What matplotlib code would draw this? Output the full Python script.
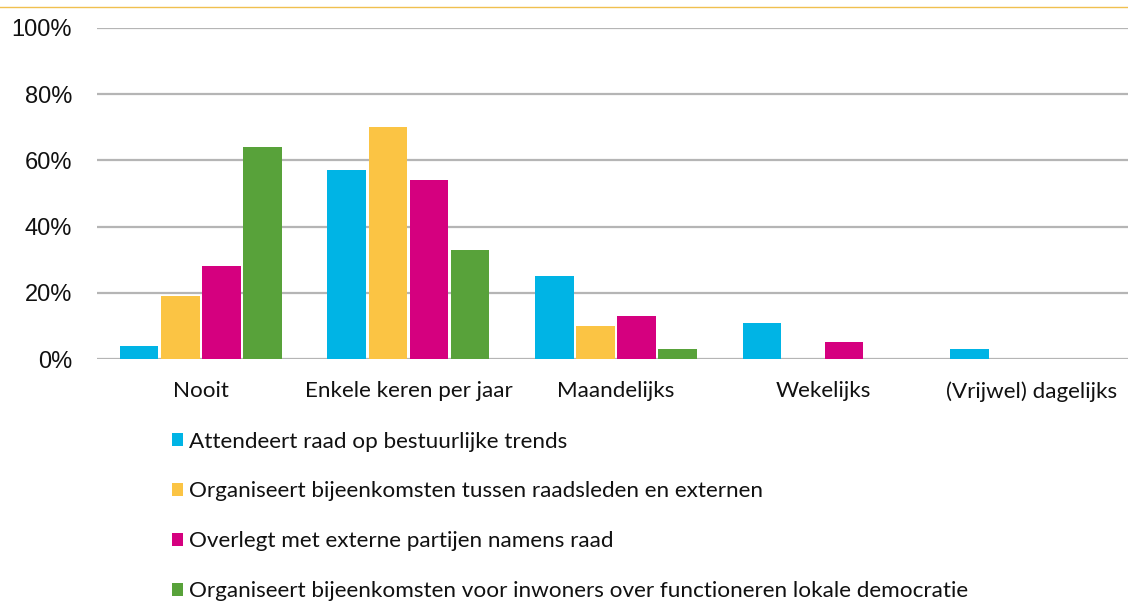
import matplotlib
matplotlib.use("Agg")
import matplotlib.pyplot as plt
import numpy as np
from matplotlib.lines import Line2D

categories = ["Nooit", "Enkele keren per jaar", "Maandelijks", "Wekelijks", "(Vrijwel) dagelijks"]
series_names = [
    "Attendeert raad op bestuurlijke trends",
    "Organiseert bijeenkomsten tussen raadsleden en externen",
    "Overlegt met externe partijen namens raad",
    "Organiseert bijeenkomsten voor inwoners over functioneren lokale democratie",
]
attendeert = [4, 57, 25, 11, 3]
organiseert_extern = [19, 70, 10, 0, 0]
overlegt = [28, 54, 13, 5, 0]
organiseert_inwoners = [64, 33, 3, 0, 0]
colors = ["#00B4E5", "#FBC444", "#D5007F", "#58A23A"]
ytick_values = [0, 20, 40, 60, 80, 100]
ytick_labels = ["0%", "20%", "40%", "60%", "80%", "100%"]

series = [attendeert, organiseert_extern, overlegt, organiseert_inwoners]

W, H = 1128, 603
fig = plt.figure(figsize=(W / 100, H / 100), dpi=100)
ax = fig.add_axes([97 / W, 1 - 359 / H, 1038 / W, 331 / H])

x = np.arange(len(categories))
bw = 0.198
handles = []
for i, (vals, c) in enumerate(zip(series, colors)):
    offs = (i - 1.5) * bw
    b = ax.bar(x + offs, vals, width=bw - 0.012, color=c, zorder=3, linewidth=0)
    handles.append(b)

ax.set_xlim(-0.5, len(categories) - 0.5)
ax.set_ylim(0, 100)
ax.set_yticks(ytick_values)
ax.set_yticklabels(ytick_labels, fontfamily="Liberation Sans", fontsize=17, color="#111111")
ax.set_xticks(x)
ax.set_xticklabels(categories, fontfamily="Lato", fontsize=16.1, color="#111111")
ax.tick_params(axis="y", length=0, pad=18)
ax.tick_params(axis="x", length=0, pad=16)
ax.yaxis.grid(True, color="#B5B5B5", linewidth=1.6, zorder=0)
ax.set_axisbelow(True)
for s in ax.spines.values():
    s.set_visible(False)

# thin golden line at the very top
fig.add_artist(Line2D([0, 1], [1 - 7 / H, 1 - 7 / H], color="#F0C050", linewidth=1.0))

leg = fig.legend(
    [h[0] for h in handles], series_names,
    loc="upper left", bbox_to_anchor=(172 / W, 1 - 431.5 / H),
    frameon=False, prop={"family": "Lato", "size": 16.2},
    handlelength=0.5, handleheight=0.5, handletextpad=0.25,
    labelspacing=1.33, borderaxespad=0, borderpad=0,
)
for t in leg.get_texts():
    t.set_color("#111111")

fig.savefig("out.png", dpi=100)
